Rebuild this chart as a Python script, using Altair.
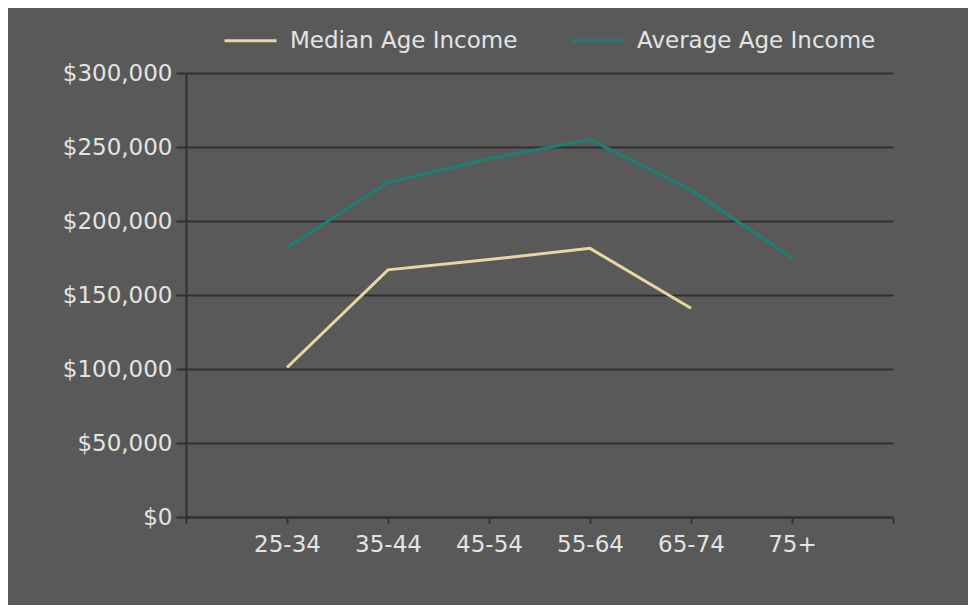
import altair as alt
import pandas as pd

categories = ["25-34", "35-44", "45-54", "55-64", "65-74", "75+"]
median_income = [101000, 167000, 174000, 181500, 141000, None]
average_income = [182000, 226000, 242000, 255000, 221000, 175000]
series_names = ["Median Age Income", "Average Age Income"]
series_colors = ["#e8d6a4", "#1f7f74"]

rows = []
for i, c in enumerate(categories):
    if median_income[i] is not None:
        rows.append({"idx": i + 1, "age": c, "series": series_names[0], "value": median_income[i]})
for i, c in enumerate(categories):
    rows.append({"idx": i + 1, "age": c, "series": series_names[1], "value": average_income[i]})
df = pd.DataFrame(rows)

label_map = "{" + ",".join(f"'{i+1}':'{c}'" for i, c in enumerate(categories)) + "}"

FONT = "DejaVu Sans"
TEXT = "#e4e4e4"
DARK = "#2f302f"
FS = 23

chart = alt.Chart(df).mark_line(strokeWidth=3).encode(
    x=alt.X("idx:Q",
            scale=alt.Scale(domain=[0, len(categories) + 1], nice=False, zero=False),
            axis=alt.Axis(values=list(range(0, len(categories) + 2)),
                          labelExpr=f"{label_map}[datum.value] || ''",
                          title=None, grid=False, tickSize=6, labelPadding=10,
                          domainColor=DARK, tickColor=DARK, domainWidth=2, tickWidth=2,
                          labelColor=TEXT, labelFont=FONT, labelFontSize=FS)),
    y=alt.Y("value:Q",
            scale=alt.Scale(domain=[0, 300000], nice=False),
            axis=alt.Axis(values=[0, 50000, 100000, 150000, 200000, 250000, 300000],
                          format="$,.0f", title=None, grid=True, gridColor=DARK, gridWidth=2,
                          tickSize=10, labelPadding=4, domainColor=DARK, tickColor=DARK,
                          domainWidth=2, tickWidth=2,
                          labelColor=TEXT, labelFont=FONT, labelFontSize=FS)),
    color=alt.Color("series:N",
                    scale=alt.Scale(domain=series_names, range=series_colors),
                    sort=series_names,
                    legend=alt.Legend(title=None, orient="none", legendX=37, legendY=-60,
                                      direction="horizontal", symbolType="stroke",
                                      symbolSize=2704, symbolStrokeWidth=3,
                                      labelOffset=12, columnPadding=47, labelLimit=0,
                                      labelColor=TEXT, labelFont=FONT, labelFontSize=FS)),
    detail="series:N",
).properties(
    width=707, height=444,
    background="#585958",
    padding={"left": 178, "top": 65, "right": 75, "bottom": 88},
    autosize=alt.AutoSizeParams(type="none"),
).configure_view(stroke=None)

chart.save("out.html", embed_options={"renderer": "svg", "actions": False})
